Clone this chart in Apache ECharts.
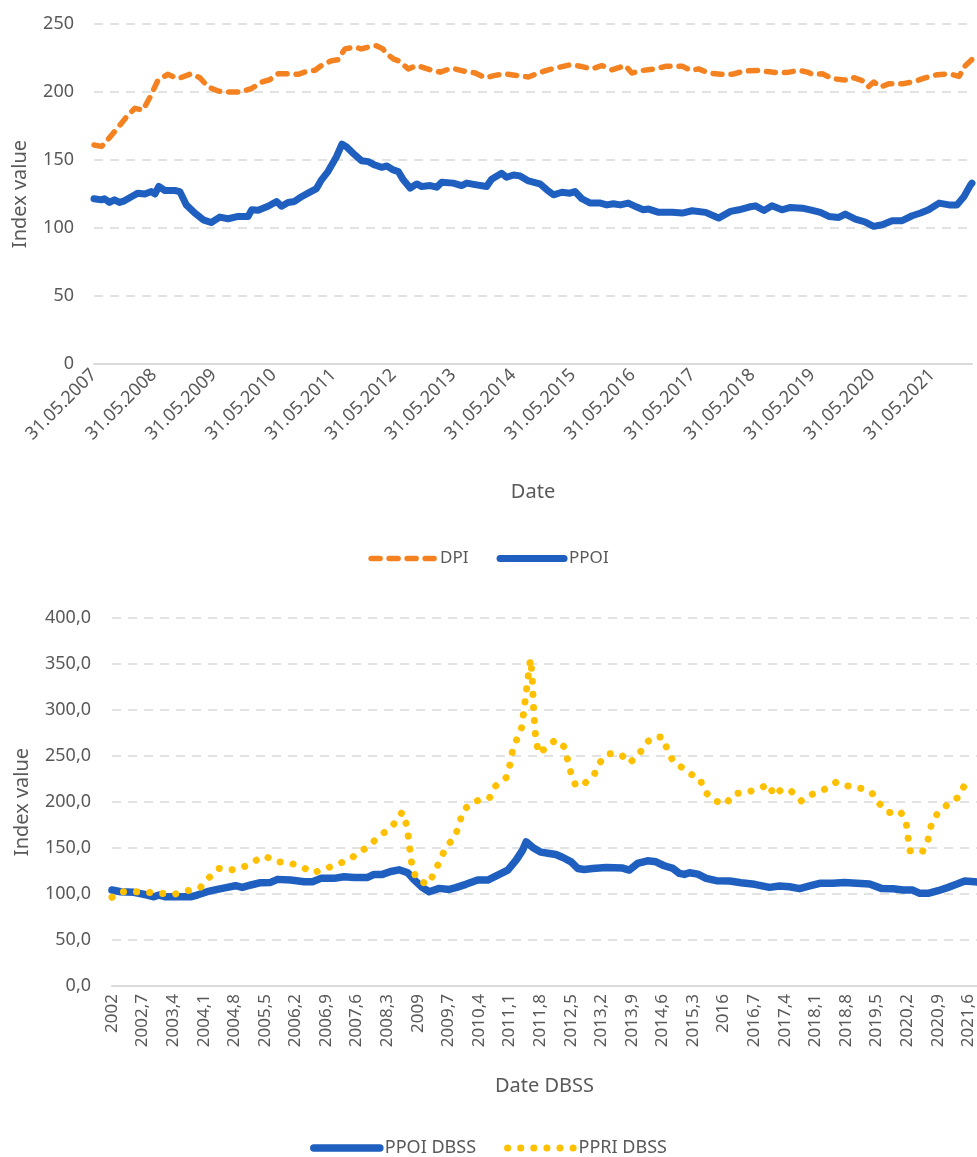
<!DOCTYPE html>
<html>
<head>
<meta charset="utf-8">
<script src="https://cdn.jsdelivr.net/npm/echarts@6/dist/echarts.min.js"></script>
<style>
  html, body { margin: 0; padding: 0; background: #fff; }
  #chart { width: 977px; height: 1157px; }
</style>
</head>
<body>
<div id="chart"></div>
<script>
// top chart: x = months after 31.05.2007
const dpi = [
  [0, 161], [1.5, 160], [2.1, 162], [3.8, 169.5], [5.5, 177], [6.8, 183], [8.2, 188], [9.8, 186.6],
  [11.2, 196], [12.8, 208.5], [14.8, 213], [16.8, 209.8], [19.5, 213.4], [21.2, 210.5], [22.9, 203.7],
  [24.9, 200.7], [26.9, 200], [29.2, 200], [31.5, 202.4], [33.6, 207.3], [35.2, 209], [36.9, 213.4],
  [38.9, 213.4], [40.9, 213], [42.2, 214.6], [44.3, 216], [45.6, 219.5], [47.6, 223], [48.9, 223.7],
  [50.3, 231.7], [52.3, 233], [53.6, 231.7], [55.3, 233.4], [56.6, 234], [57.9, 231.7], [58.7, 228],
  [60, 224.4], [61, 223], [63, 217], [64.7, 219.5], [67.4, 216.3], [69.4, 214.6], [71.7, 217.6],
  [74.1, 215.4], [76.4, 214], [78.4, 210.5], [80.4, 212.2], [82.4, 213.4], [84.7, 212.2], [87.1, 211],
  [89.1, 214], [91.1, 216.3], [93.4, 218.3], [95.4, 220], [97.4, 219], [99.8, 217], [101.8, 219.5],
  [103.8, 216.3], [106.5, 219.5], [107.8, 214], [110.1, 215.9], [112.5, 217], [114.8, 219],
  [117.9, 219], [119.6, 215.9], [121.2, 217], [123.2, 214], [125.6, 213], [127.9, 213], [130.3, 215.4],
  [133.3, 215.9], [135, 215], [137.3, 214], [139.3, 214.6], [141.3, 215.9], [143, 214.6], [144, 213],
  [146, 213.4], [148, 209.8], [150, 209], [151.3, 208.5], [152.3, 210.5], [154.3, 208], [155.3, 204],
  [156.3, 207.3], [157.7, 203.7], [159.3, 206], [162, 206], [164, 207.3], [166.7, 210.5], [169, 212.7],
  [171.4, 213.4], [173.4, 211.5], [174.7, 219.5], [176, 224]
];
const ppoi = [
  [0, 121.5], [1.5, 120.7], [2.1, 121.5], [3.1, 118.8], [4.1, 120.7], [5.1, 118.8], [6.1, 120],
  [7.5, 123], [8.8, 125.6], [10.2, 125], [11.5, 126.8], [12.2, 125], [13, 130.5], [14.2, 127.6],
  [16.2, 127.6], [17.2, 126.8], [18.5, 117], [20.2, 111], [21.9, 106], [23.5, 104], [25.2, 108],
  [26.9, 106.8], [28.9, 108.5], [30.9, 108.5], [31.6, 113.4], [32.9, 113], [34.9, 116], [36.6, 119.5],
  [37.6, 116], [38.9, 118.8], [40.2, 119.5], [41.6, 123], [42.9, 125.6], [44.6, 129], [45.6, 135.4],
  [46.9, 141.5], [48.6, 152.4], [49.7, 161.7], [50.6, 159.8], [52.3, 153.7], [53.6, 149.5], [55, 148.8],
  [56.3, 146.3], [57.7, 144.6], [58.7, 145.6], [60, 142.7], [61, 141.5], [62, 135.4], [63.4, 129.3],
  [64.7, 132.4], [65.7, 130.5], [67.4, 131.2], [68.7, 130], [69.7, 133.7], [72, 133], [73.7, 131.2],
  [74.7, 133], [76.7, 131.7], [78.7, 130.5], [79.7, 135.9], [81.7, 140.2], [82.7, 137.3], [84.1, 139],
  [85.4, 138.3], [87.1, 134.6], [88.4, 133.4], [89.4, 132.4], [90.8, 128], [92.1, 124.4], [93.8, 126.3],
  [95.4, 125.6], [96.4, 126.8], [97.8, 121.5], [99.5, 118.3], [101.5, 118.3], [102.8, 117], [104.1, 117.8],
  [105.5, 117], [107.1, 118.3], [108.8, 115.4], [110.1, 113.4], [111.2, 113.9], [113.2, 111.5],
  [114.8, 111.5], [115.9, 111.5], [117.9, 111], [119.9, 112.7], [122.6, 111.5], [125.2, 107.3],
  [127.6, 112.2], [129.3, 113.4], [131.3, 115.4], [132.6, 116.3], [134.3, 112.9], [135.9, 116.3],
  [137.9, 113.4], [139.6, 115.1], [142, 114.6], [144, 112.9], [145.6, 111.5], [147.3, 108.5],
  [149.3, 107.8], [150.6, 110.2], [152.6, 106.6], [154.6, 104.4], [156.3, 101.2], [158, 102.4],
  [160, 105.4], [162, 105.4], [164, 109], [165.7, 111], [167.3, 113.4], [169.4, 118.3], [171.4, 117],
  [173, 117], [174.4, 123.2], [175.7, 131.7], [176, 133]
];

// bottom chart: x = tenths of a year after 2002
const ppoiDbss = [
  [0, 104.3], [2, 102.5], [5, 101.8], [8.1, 98.9], [9.6, 97], [10.8, 98.9], [12.3, 97], [15.7, 97],
  [18, 97], [19.5, 98.9], [21.8, 102.5], [24.1, 105], [26.4, 107.2], [28.3, 109], [29.8, 107.2],
  [31.8, 109.8], [34, 112.3], [36.3, 112.6], [37.9, 115.9], [40.9, 115.2], [44, 113.4], [45.9, 113.4],
  [47.8, 117], [50.8, 117], [53.1, 118.8], [55.4, 118], [58.5, 118], [60, 121.3], [61.9, 121.3],
  [63.8, 124.5], [65.7, 126.3], [67.7, 123.1], [69.2, 115.2], [71.1, 106.9], [72.6, 102.5], [74.9, 106.1],
  [77.2, 105], [78.7, 106.9], [81, 110.5], [83.7, 115.2], [86, 115.2], [88.3, 120.6], [90.6, 126],
  [92.5, 136.8], [94, 147.7], [94.8, 156.7], [96.3, 150.6], [98.2, 145.5], [100.1, 144.1], [101.6, 143],
  [103.2, 139.7], [105.1, 135], [106.6, 127.8], [108.1, 126.7], [110, 127.8], [113.1, 128.9],
  [116.9, 128.2], [118.4, 126], [120.3, 133.2], [122.6, 136.1], [124.5, 135], [126.4, 130.7],
  [128.4, 127.8], [129.9, 122.4], [131, 121.3], [132.2, 123.1], [134.1, 121.6], [136, 117], [138.3, 114.5],
  [141.4, 114.1], [144, 112.3], [147.1, 110.5], [150.5, 107.2], [152.8, 108.7], [155.1, 107.9],
  [157.4, 105.8], [159.7, 108.7], [162, 111.6], [165, 111.6], [167.7, 112.6], [170.4, 111.6],
  [173.4, 110.8], [176.1, 106.1], [178.8, 105.8], [181.1, 104.3], [183.3, 104.3], [184.9, 100.7],
  [186.8, 100.7], [189.1, 103.6], [191.4, 107.2], [193.3, 110.5], [195.2, 114.1], [197.5, 113.4], [198, 113]
];
const ppriDbss = [
  [0, 96.4], [2, 102.5], [4.9, 102.5], [8.1, 101.8], [11.1, 100.7], [14.2, 99.6], [17.3, 103.6],
  [20.2, 106.9], [22.2, 117.7], [24.5, 127.8], [27, 126], [29.5, 127.8], [32.3, 135], [35, 141.2],
  [37.7, 135], [40.4, 134], [43.2, 130.3], [46, 123.1], [48.5, 126.7], [51.4, 132.2], [54.1, 136.8],
  [56.6, 145.2], [58.9, 152.4], [61.1, 162.9], [63.3, 170], [65.1, 179], [66.4, 189], [67.5, 174],
  [67.9, 159.2], [68.3, 144], [68.7, 128.9], [69.8, 115.2], [72.4, 110.5], [73.8, 123.5], [75.1, 136.8],
  [76.4, 150.6], [78.5, 162.1], [79.5, 176.6], [80.4, 191], [82.5, 199.4], [85, 203.7], [86.4, 204.4],
  [87.7, 217], [90.2, 226.4], [91.1, 240.9], [91.7, 256], [92.8, 269.8], [93.8, 281.4], [94.2, 296.5],
  [94.6, 311.3], [95, 326.5], [95.4, 341.7], [95.8, 355.4], [96.1, 340.2], [96.3, 324.7], [96.4, 309.5],
  [96.6, 294.7], [96.8, 279.6], [97.1, 265.1], [97.8, 252.5], [99.6, 260.4], [101.6, 267.6],
  [103.4, 260.4], [104.3, 246], [105.1, 230.8], [106.2, 217], [108.3, 220.7], [110.3, 229],
  [111.6, 242.7], [113.6, 252.5], [116.5, 251.7], [118.4, 242.3], [120.5, 250.6], [122.1, 264],
  [124.3, 271.2], [126.1, 270.5], [127.1, 256.8], [128.6, 242.7], [131, 236.2], [132.6, 230],
  [134.5, 226.1], [135.6, 212], [137.7, 201.9], [140.4, 197.5], [142.5, 209.1], [145.2, 210.5],
  [147.5, 213.4], [150.4, 219.2], [151.5, 206.9], [153.4, 214.2], [155.5, 211.6], [157.8, 201.1],
  [160.3, 208.4], [163.1, 213.8], [165.8, 221.7], [167.9, 217.8], [170.9, 215.6], [173.8, 210.9],
  [175.6, 198.3], [177.8, 188.5], [180.4, 190.3], [181.8, 177.3], [182.2, 162.1], [182.6, 147],
  [185.5, 145.9], [186.8, 159.2], [187.5, 174.4], [188.9, 187.4], [191.1, 196.5], [193.8, 205.5],
  [195.2, 218.9], [197.2, 213.4]
];

const FONT = 'Noto Sans'
const GREY = '#595959'
const ORANGE = '#F58220'
const BLUE = '#1F5FBF'
const YELLOW = '#FFC000'
const gridLine = { lineStyle: { color: '#D9D9D9', width: 1.5, type: [9, 7] } }
const baseLine = { lineStyle: { color: '#D9D9D9', width: 2 } }

const dpiLine = { color: ORANGE, width: 5.5, type: [9, 9], cap: 'round', join: 'round' }
const ppoiLine = { color: BLUE, width: 7, cap: 'round', join: 'round' }
const ppoiDbssLine = { color: BLUE, width: 7.5, cap: 'round', join: 'round' }
const ppriLine = { color: YELLOW, width: 7, type: [0.1, 13], cap: 'round', join: 'round' }

const chart = echarts.init(document.getElementById('chart'))
chart.setOption({
  animation: false,
  textStyle: { fontFamily: FONT },
  grid: [
    { left: 94, right: 5, top: 24, height: 340, outerBoundsMode: 'none' },
    { left: 112, right: 0, top: 618, height: 368, outerBoundsMode: 'none' }
  ],
  legend: [
    {
      data: [
        { name: 'DPI', lineStyle: dpiLine },
        { name: 'PPOI', lineStyle: ppoiLine }
      ],
      top: 545, left: 'center',
      itemWidth: 64, itemHeight: 14, itemGap: 28,
      itemStyle: { opacity: 0 },
      textStyle: { color: GREY, fontSize: 17, fontFamily: FONT }
    },
    {
      data: [
        { name: 'PPOI DBSS', lineStyle: ppoiDbssLine },
        { name: 'PPRI DBSS', lineStyle: ppriLine }
      ],
      top: 1134, left: 'center',
      itemWidth: 66, itemHeight: 14, itemGap: 28,
      itemStyle: { opacity: 0 },
      textStyle: { color: GREY, fontSize: 18, fontFamily: FONT }
    }
  ],
  xAxis: [
    {
      gridIndex: 0, type: 'value', min: 0, max: 176, interval: 12,
      name: 'Date', nameLocation: 'middle', nameGap: 118,
      nameTextStyle: { color: GREY, fontSize: 20 },
      axisLine: baseLine, axisTick: { show: false }, splitLine: { show: false },
      axisLabel: {
        rotate: 45, color: GREY, fontSize: 18, margin: 8, showMaxLabel: false,
        formatter: v => '31.05.' + (2007 + v / 12)
      }
    },
    {
      gridIndex: 1, type: 'value', min: 0, max: 198, interval: 7,
      name: 'Date DBSS', nameLocation: 'middle', nameGap: 90,
      nameTextStyle: { color: GREY, fontSize: 20 },
      axisLine: baseLine, axisTick: { show: false }, splitLine: { show: false },
      axisLabel: {
        rotate: 90, color: GREY, fontSize: 17, margin: 8, showMaxLabel: false,
        formatter: v => {
          const y = 2002 + Math.floor(v / 10)
          const d = Math.round(v % 10)
          return d ? y + ',' + d : String(y)
        }
      }
    }
  ],
  yAxis: [
    {
      gridIndex: 0, type: 'value', min: 0, max: 250, interval: 50,
      name: 'Index value', nameLocation: 'middle', nameGap: 64,
      nameTextStyle: { color: GREY, fontSize: 20 },
      axisLine: { show: false }, axisTick: { show: false },
      splitLine: gridLine,
      axisLabel: { color: GREY, fontSize: 18, margin: 20 }
    },
    {
      gridIndex: 1, type: 'value', min: 0, max: 400, interval: 50,
      name: 'Index value', nameLocation: 'middle', nameGap: 80,
      nameTextStyle: { color: GREY, fontSize: 20 },
      axisLine: { show: false }, axisTick: { show: false },
      splitLine: gridLine,
      axisLabel: {
        color: GREY, fontSize: 18, margin: 21,
        formatter: v => v.toFixed(1).replace('.', ',')
      }
    }
  ],
  series: [
    {
      name: 'DPI', type: 'line', xAxisIndex: 0, yAxisIndex: 0,
      data: dpi, showSymbol: false, symbol: 'none',
      itemStyle: { color: ORANGE }, lineStyle: dpiLine
    },
    {
      name: 'PPOI', type: 'line', xAxisIndex: 0, yAxisIndex: 0,
      data: ppoi, showSymbol: false, symbol: 'none',
      itemStyle: { color: BLUE }, lineStyle: ppoiLine
    },
    {
      name: 'PPOI DBSS', type: 'line', xAxisIndex: 1, yAxisIndex: 1,
      data: ppoiDbss, showSymbol: false, symbol: 'none',
      itemStyle: { color: BLUE }, lineStyle: ppoiDbssLine
    },
    {
      name: 'PPRI DBSS', type: 'line', xAxisIndex: 1, yAxisIndex: 1,
      data: ppriDbss, showSymbol: false, symbol: 'none',
      itemStyle: { color: YELLOW }, lineStyle: ppriLine
    }
  ]
})
</script>
</body>
</html>
